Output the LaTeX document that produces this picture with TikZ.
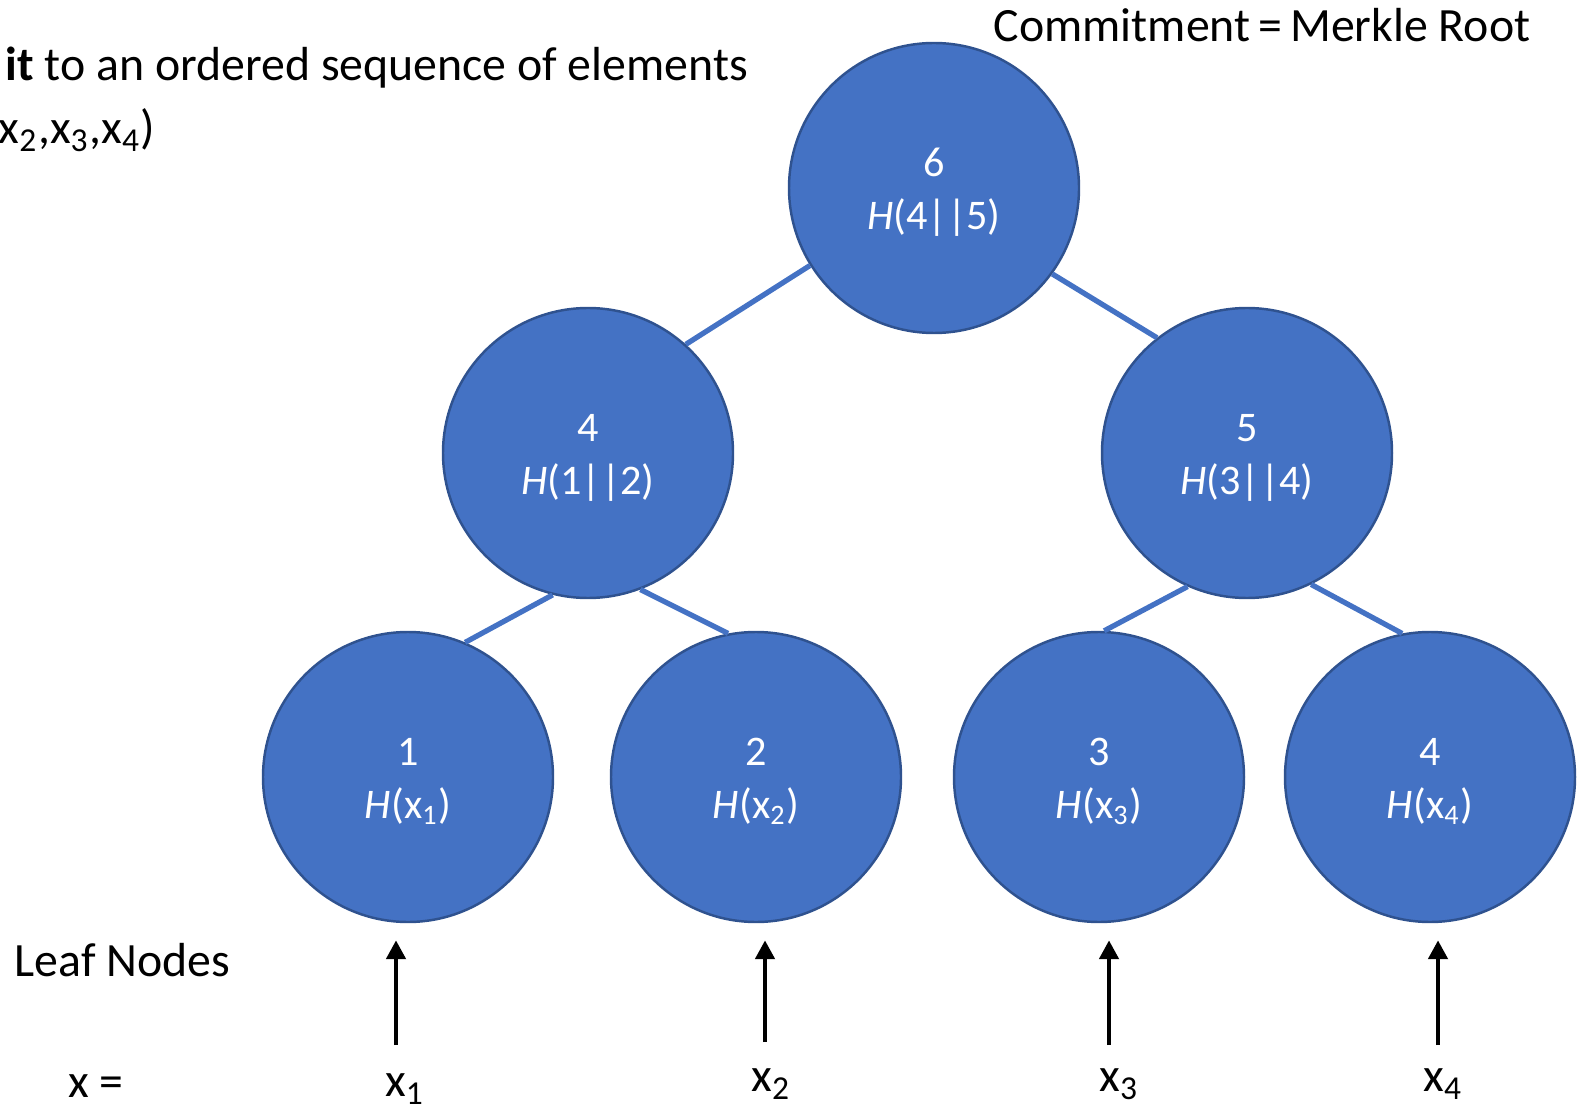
\documentclass[tikz,border=0pt]{standalone}
\usepackage{fontspec}
\setmainfont{Carlito}
\usetikzlibrary{arrows.meta}

\definecolor{nodeblue}{HTML}{4472C4}
\definecolor{rimblue}{HTML}{2F528F}

\begin{document}
\begin{tikzpicture}[
          hashnode/.style={circle, draw=rimblue, line width=0.7pt, fill=nodeblue, minimum size=2.9cm, inner sep=0pt,
            text=white, align=center, font=\fontsize{12}{15}\selectfont},
          link/.style={draw=nodeblue, line width=1.5pt},
          feed/.style={-{Triangle[length=1.9mm,width=1.9mm]}, line width=1.4pt, shorten >=1.7mm},
          label/.style={font=\fontsize{13.6}{16}\selectfont}
        ]
          \useasboundingbox (0,0) rectangle (15.88,11.08);

          % Tree nodes
          \node[hashnode] (root) at (9.34,9.20) {\rule{0pt}{10.5pt}6\\\textit{H}(4||5)};
          \node[hashnode] (n4) at (5.88,6.55) {\rule{0pt}{10.5pt}4\\\textit{H}(1||2)};
          \node[hashnode] (n5) at (12.47,6.55) {\rule{0pt}{10.5pt}5\\\textit{H}(3||4)};
          \node[hashnode] (l1) at (4.08,3.31) {\rule{0pt}{10.5pt}1\\\textit{H}(x\textsubscript{1})};
          \node[hashnode] (l2) at (7.56,3.31) {\rule{0pt}{10.5pt}2\\\textit{H}(x\textsubscript{2})};
          \node[hashnode] (l3) at (10.99,3.31) {\rule{0pt}{10.5pt}3\\\textit{H}(x\textsubscript{3})};
          \node[hashnode] (l4) at (14.30,3.31) {\rule{0pt}{10.5pt}4\\\textit{H}(x\textsubscript{4})};

          % Tree edges
          \draw[link] (root.212) -- (n4.48);
          \draw[link] (root.324) -- (n5.128);
          \draw[link] (n4.256) -- (l1.67);
          \draw[link] (n4.291) -- (l2.101);
          \draw[link] (n5.246) -- (l3.88);
          \draw[link] (n5.296) -- (l4.101);

          % Texts
          \node[label] (commit) at (12.62,10.83) {Commitment\,=\,Merkle Root};
          \node[label, anchor=west, inner sep=0pt] (seq1) at (0.05,10.40) {\textbf{it} to an ordered sequence of elements};
          \node[label, anchor=west, inner sep=0pt] (seq2) at (-0.02,9.78) {x\textsubscript{2},x\textsubscript{3},x\textsubscript{4})};
          \node[label, anchor=west, inner sep=0pt] (leaves) at (0.14,1.48) {Leaf Nodes};
          \node[label] (xeq) at (0.96,0.22) {x =};

          % Inputs
          \node[label] (x1) at (4.05,0.19) {x\textsubscript{1}};
          \node[label] (x2) at (7.71,0.24) {x\textsubscript{2}};
          \node[label] (x3) at (11.19,0.24) {x\textsubscript{3}};
          \node[label] (x4) at (14.43,0.24) {x\textsubscript{4}};

          % Arrows
          \coordinate (b1) at (3.96,0.63);
          \coordinate (b2) at (7.65,0.66);
          \coordinate (b3) at (11.09,0.63);
          \coordinate (b4) at (14.38,0.63);
          \draw[feed] (b1) -- (b1 |- l1.south);
          \draw[feed] (b2) -- (b2 |- l2.south);
          \draw[feed] (b3) -- (b3 |- l3.south);
          \draw[feed] (b4) -- (b4 |- l4.south);
        \end{tikzpicture}
\end{document}
